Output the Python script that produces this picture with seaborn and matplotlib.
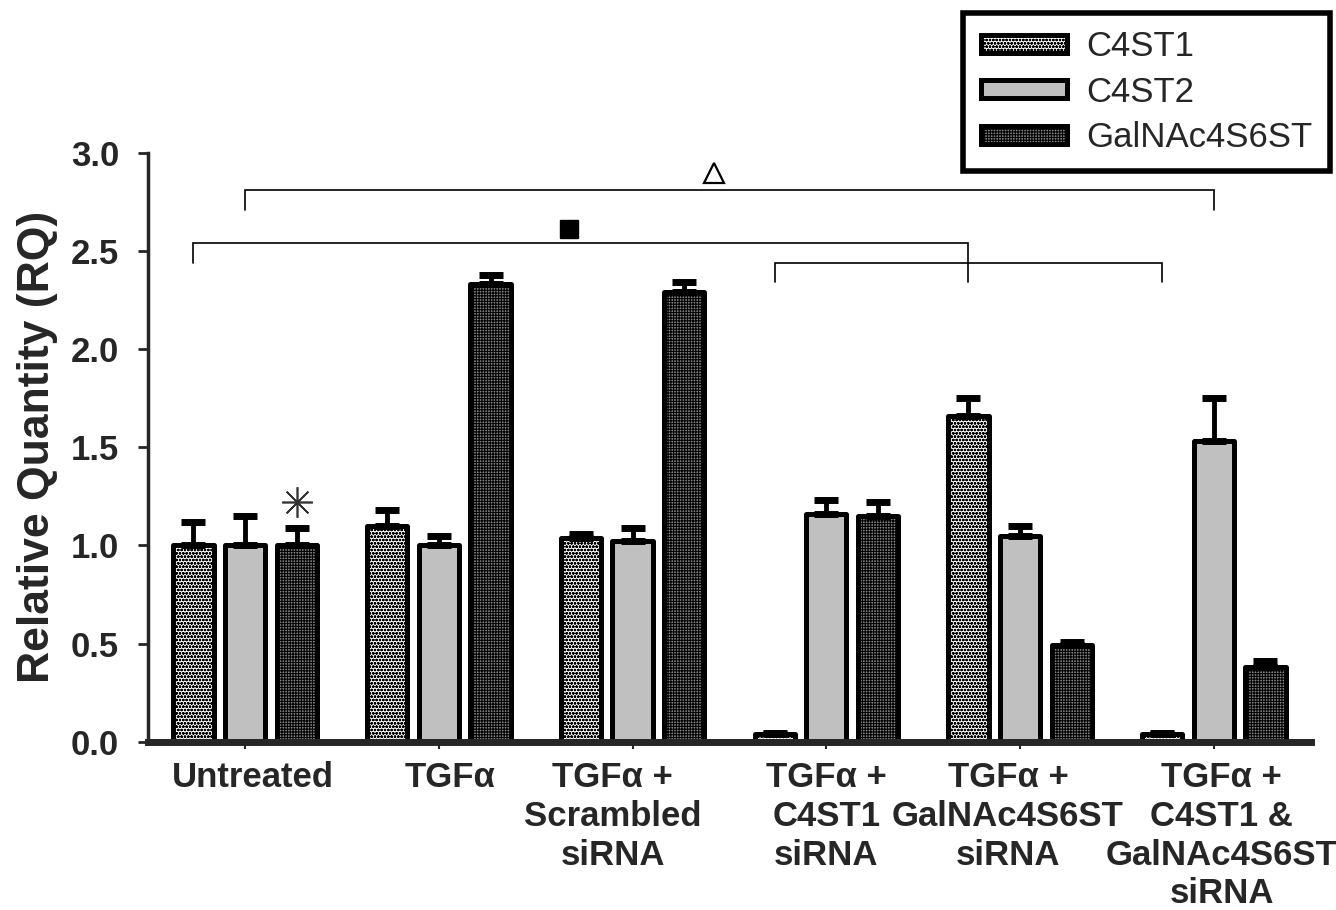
import numpy as np
import pandas as pd
import seaborn as sns
import matplotlib.pyplot as plt
from matplotlib.transforms import ScaledTranslation

# data (mean RQ and upper error)
conditions = ["Untreated", "TGF\u03b1", "TGF\u03b1 +\nScrambled\nsiRNA", "TGF\u03b1 +\nC4ST1\nsiRNA",
              "TGF\u03b1 +\nGalNAc4S6ST\nsiRNA", "TGF\u03b1 +\nC4ST1 &\nGalNAc4S6ST\nsiRNA"]
genes = ["C4ST1", "C4ST2", "GalNAc4S6ST"]
c4st1 = [1.00, 1.10, 1.04, 0.04, 1.66, 0.04]
c4st1_err = [0.12, 0.08, 0.02, 0.005, 0.09, 0.005]
c4st2 = [1.00, 1.00, 1.02, 1.16, 1.05, 1.53]
c4st2_err = [0.15, 0.05, 0.07, 0.07, 0.05, 0.22]
galnac = [1.00, 2.33, 2.29, 1.15, 0.49, 0.38]
galnac_err = [0.09, 0.05, 0.05, 0.07, 0.02, 0.03]

# significance brackets: (gene idx, group idx) left, right, height, left drop, right drop,
# marker and its shift from the bracket middle
brackets = [((1, 0), (1, 5), 2.81, 0.10, 0.10, '^', -0.08),
            ((0, 0), (0, 4), 2.54, 0.10, 0.20, 's', -0.06),
            ((0, 3), (0, 5), 2.44, 0.10, 0.10, None, 0.0)]
star_bar = (2, 0)
star_y = 1.22

# the x labels are not exactly centred on their ticks in the original (pixels)
label_shift = [8, 11, -20, 0, -12, 8]

sns.set_style("ticks")
plt.rcParams['font.family'] = ['Liberation Sans', 'DejaVu Sans']
plt.rcParams['hatch.linewidth'] = 0.8

df = pd.DataFrame({'condition': conditions * 3,
                   'gene': np.repeat(genes, len(conditions)),
                   'rq': c4st1 + c4st2 + galnac})

fig = plt.figure(figsize=(13.36, 9.10), dpi=100)
ax = fig.add_axes([0.111, 0.185, 0.870, 0.647])
sns.barplot(data=df, x='condition', y='rq', hue='gene', hue_order=genes,
            palette=['white', '#c0c0c0', '#858585'], saturation=1, errorbar=None,
            gap=0.22, edgecolor='black', linewidth=3.6, ax=ax, legend=False)

hatches = ['ooooo', '', '++++++']
values = [c4st1, c4st2, galnac]
errors = [c4st1_err, c4st2_err, galnac_err]
centers = []
for cont, h, v, e in zip(ax.containers, hatches, values, errors):
    xs = []
    for p in cont:
        p.set_hatch(h)
        p.set_joinstyle('round')
        xs.append(p.get_x() + p.get_width() / 2)
    centers.append(xs)
    ax.errorbar(xs, v, yerr=[np.zeros(len(v)), e], fmt='none', ecolor='black',
                elinewidth=3.5, capsize=8.5, capthick=5, zorder=3)

for (lh, lg), (rh, rg), hgt, ld, rd, mk, dx in brackets:
    x0, x1 = centers[lh][lg], centers[rh][rg]
    ax.plot([x0, x0, x1, x1], [hgt - ld, hgt, hgt, hgt - rd], color='black', lw=1.2,
            solid_joinstyle='miter', clip_on=False)
    if mk == '^':
        ax.plot((x0 + x1) / 2 + dx, hgt + 0.09, marker='^', ms=14, mfc='white', mec='black',
                mew=1.6, clip_on=False)
    elif mk == 's':
        ax.plot((x0 + x1) / 2 + dx, hgt + 0.07, marker='s', ms=13, color='black', clip_on=False)

ax.plot(centers[star_bar[0]][star_bar[1]], star_y, marker=(8, 2, 0), ms=22,
        mec='#333333', mew=1.2, clip_on=False)

ax.set_ylim(0, 3.0)
ax.set_xlim(-0.5, 5.5)
ax.set_yticks(np.arange(0, 3.01, 0.5))
ax.set_xlabel('')
ax.set_ylabel('Relative Quantity (RQ)', fontsize=32, fontweight='bold')
ax.yaxis.set_label_coords(-0.078, 0.5)
sns.despine(ax=ax)
ax.spines['left'].set_linewidth(2.5)
ax.spines['bottom'].set_linewidth(5)
ax.tick_params(axis='x', length=5, width=1.5, pad=9)
ax.tick_params(axis='y', length=7, width=2, pad=14)
for t, dx in zip(ax.get_xticklabels(), label_shift):
    t.set_fontweight('bold')
    t.set_fontsize(25)
    t.set_linespacing(1.22)
    t.set_verticalalignment('top')
    t.set_transform(t.get_transform() + ScaledTranslation(dx / 100, 0, fig.dpi_scale_trans))
for t in ax.get_yticklabels():
    t.set_fontweight('bold')
    t.set_fontsize(25)

leg = fig.legend(handles=list(ax.containers), labels=genes, loc='upper right',
                 bbox_to_anchor=(0.9955, 0.986), fontsize=25, fancybox=False,
                 framealpha=1, edgecolor='black', handlelength=2.5, handleheight=0.43,
                 labelspacing=0.36, borderpad=0.5, handletextpad=0.55, borderaxespad=0)
leg.get_frame().set_linewidth(4)

fig.savefig('out.png', dpi=100)
